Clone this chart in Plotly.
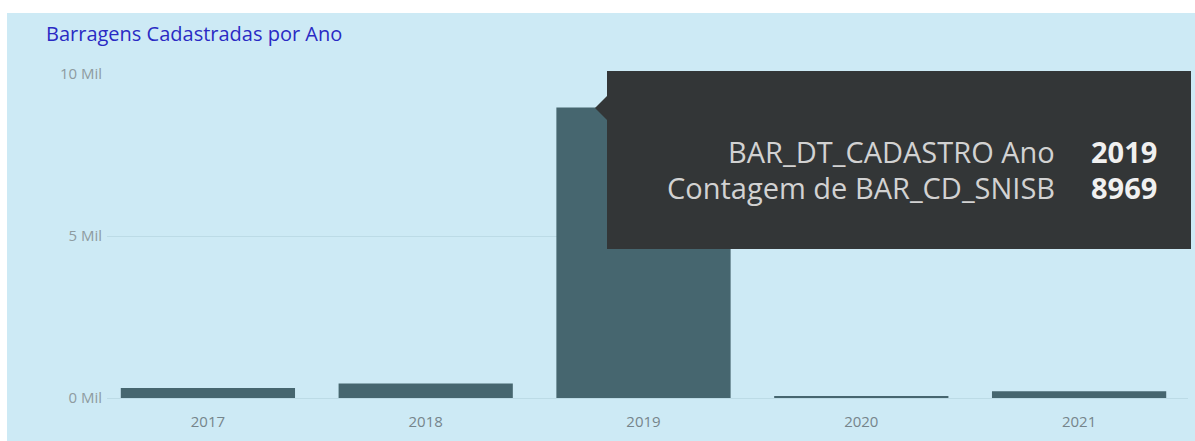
import plotly.graph_objects as go

# ---- data ----
years = ["2017", "2018", "2019", "2020", "2021"]
counts = [310, 450, 8969, 60, 210]
y_tick_vals = [0, 5000, 10000]
y_tick_text = ["0 Mil", "5 Mil", "10 Mil"]
title_text = "Barragens Cadastradas por Ano"
tip_labels = ["BAR_DT_CADASTRO Ano", "Contagem de BAR_CD_SNISB"]
tip_values = ["2019", "8969"]

# ---- layout geometry (pixels) ----
FIG_W, FIG_H = 1195, 441
L, R, T, B = 107, 7, 74, 43
PW = FIG_W - L - R
PH = FIG_H - T - B

def px(x):
    return (x - L) / PW

def py(y):
    return (FIG_H - B - y) / PH

BG = "#CDEAF5"
BAR = "#46666F"
TIP = "#333637"
FONT = "Open Sans, sans-serif"

fig = go.Figure()
fig.add_trace(go.Bar(
    x=years, y=counts,
    marker=dict(color=BAR, line=dict(width=0)),
    hoverinfo="skip",
))

shapes = []
# white page margin strips (top and left)
shapes.append(dict(type="rect", xref="paper", yref="paper",
                   x0=px(0), x1=px(FIG_W), y0=py(13), y1=py(0),
                   fillcolor="white", line=dict(width=0), layer="below"))
shapes.append(dict(type="rect", xref="paper", yref="paper",
                   x0=px(0), x1=px(7), y0=py(FIG_H), y1=py(0),
                   fillcolor="white", line=dict(width=0), layer="below"))
# tooltip box
shapes.append(dict(type="rect", xref="paper", yref="paper",
                   x0=px(607), x1=px(1191), y0=py(249), y1=py(71),
                   fillcolor=TIP, line=dict(width=0), layer="above"))
# tooltip notch
shapes.append(dict(type="path", xref="paper", yref="paper",
                   path=f"M {px(608)},{py(95)} L {px(595)},{py(108)} L {px(608)},{py(121)} Z",
                   fillcolor=TIP, line=dict(width=0), layer="above"))

annotations = [
    dict(text=title_text, xref="paper", yref="paper", x=px(44), y=py(33),
         xanchor="left", yanchor="middle", showarrow=False,
         font=dict(family=FONT, size=20, color="#2A2AC4")),
]
line_y = [151, 187]
for lab, val, yy in zip(tip_labels, tip_values, line_y):
    annotations.append(dict(text=lab, xref="paper", yref="paper", x=px(1057), y=py(yy),
                            xanchor="right", yanchor="middle", showarrow=False,
                            font=dict(family=FONT, size=29, color="#D2D2D2")))
    annotations.append(dict(text=f"<b>{val}</b>", xref="paper", yref="paper", x=px(1159), y=py(yy),
                            xanchor="right", yanchor="middle", showarrow=False,
                            font=dict(family=FONT, size=29, color="#F0F0F0")))

fig.update_layout(
    width=FIG_W, height=FIG_H,
    margin=dict(l=L, r=R, t=T, b=B, pad=0),
    paper_bgcolor=BG, plot_bgcolor=BG,
    bargap=0.2,
    showlegend=False,
    shapes=shapes,
    annotations=annotations,
    xaxis=dict(showgrid=False, zeroline=False, showline=False, ticks="",
               range=[-0.4633, 4.5], ticklabelstandoff=13,
               tickfont=dict(family=FONT, size=15, color="#76858B")),
    yaxis=dict(range=[0, 10000], tickvals=y_tick_vals, ticktext=y_tick_text,
               showgrid=True, gridcolor="#BCDBE6", gridwidth=1,
               zeroline=True, zerolinecolor="#BCDBE6", zerolinewidth=1,
               showline=False, ticks="", ticklabelstandoff=4,
               tickfont=dict(family=FONT, size=15, color="#8E9BA0")),
)

fig.write_html("out.html")
